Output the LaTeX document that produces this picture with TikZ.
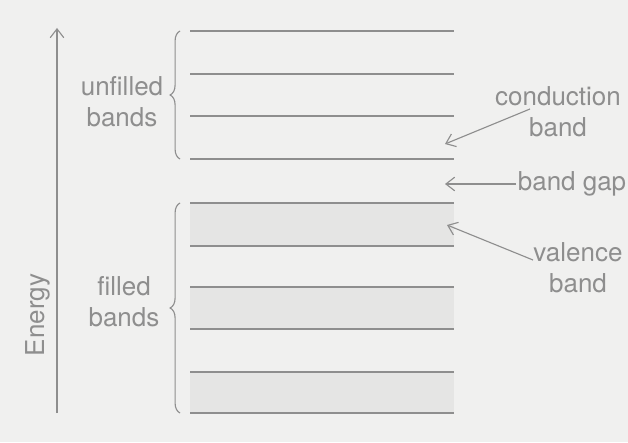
\documentclass[tikz,border=0pt]{standalone}
\usepackage{fontspec}
\setmainfont{TeX Gyre Heros}
\usepackage{xcolor}
\usepackage{tikz}
\usetikzlibrary{positioning, arrows.meta, decorations.pathreplacing}

\definecolor{paper}{HTML}{F0F0EF}
\definecolor{ink}{HTML}{8E8E8E}
\definecolor{bandfill}{HTML}{E5E5E4}

\tikzset{
  lbl/.style={text=ink, align=center, inner sep=1pt, font=\fontsize{18.5}{22}\selectfont},
  level/.style={draw=ink, line width=0.8pt},
  pointer/.style={draw=ink, line width=0.8pt, -{Straight Barb[length=2.2mm,width=3.4mm]}},
  grp/.style={draw=ink, line width=0.8pt, decorate, decoration={brace, amplitude=7pt}}
}

\begin{document}
\begin{tikzpicture}
\fill[paper] (0,0) rectangle (15.7,11.05);
\useasboundingbox (0,0) rectangle (15.7,11.05);
% filled bands
\fill[bandfill] (4.75,5.975) rectangle (11.35,4.9);
\fill[bandfill] (4.75,3.875) rectangle (11.35,2.825);
\fill[bandfill] (4.75,1.75) rectangle (11.35,0.725);
% band edges
\foreach \y in {10.275,9.2,8.15,7.075,5.975,4.9,3.875,2.825,1.75,0.725}
  \draw[level] (4.75,\y) -- (11.35,\y);
% energy axis
\coordinate (elow) at (1.425,0.725);
\coordinate (ehigh) at (1.425,10.35);
\draw[pointer] (elow) -- (ehigh);
\node[lbl, rotate=90] (energy) at (0.95,3.175) {Energy};
% groups of bands
\draw[grp] (4.5,7.075) -- (4.5,10.275);
\draw[grp] (4.5,0.725) -- (4.5,5.975);
\node[lbl] (unfilled) at (3.05,8.5) {unfilled\\bands};
\node[lbl] (filled) at (3.1,3.5) {filled\\bands};
% labels on the right
\node[lbl] (cb) at (13.95,8.25) {conduction\\band};
\node[lbl] (bg) at (14.3,6.45) {band gap};
\node[lbl] (vb) at (14.45,4.35) {valence\\band};
\coordinate (cbfrom) at (13.25,8.325);
\coordinate (cbto) at (11.125,7.45);
\coordinate (bgto) at (11.125,6.45);
\coordinate (vbfrom) at (13.325,4.55);
\coordinate (vbto) at (11.175,5.425);
\draw[pointer] (cbfrom) -- (cbto);
\draw[pointer] (bg.west) -- (bgto);
\draw[pointer] (vbfrom) -- (vbto);
\end{tikzpicture}
\end{document}
